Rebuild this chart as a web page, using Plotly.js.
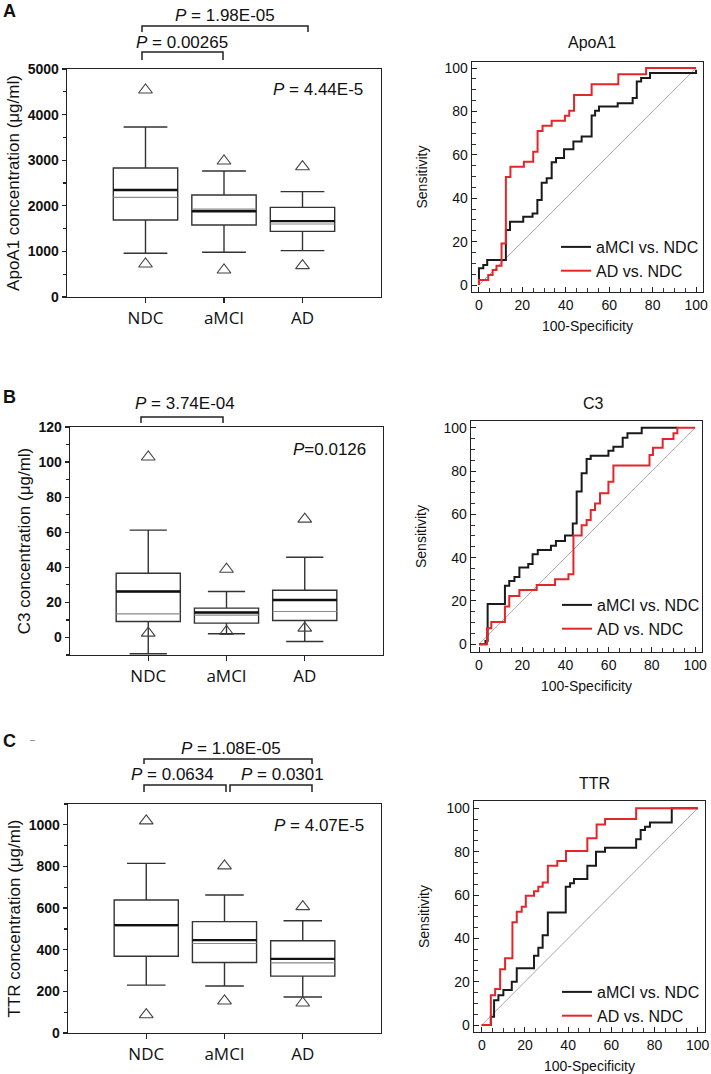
<!DOCTYPE html>
<html><head><meta charset="utf-8">
<script src="https://cdn.plot.ly/plotly-3.0.1.min.js"></script>
<style>html,body{margin:0;padding:0;background:#fff;} #chart{width:711px;height:1074px;}</style>
</head><body><div id="chart"></div>
<script>
// ---------------- DATA ----------------
const groups = ['NDC', 'aMCI', 'AD'];

// ApoA1 (µg/ml)
const apoQ1      = [1690, 1580, 1440];
const apoMedian  = [2345, 1880, 1665];
const apoQ3      = [2830, 2237, 1966];
const apoMean    = [2186, 1925, 1601];
const apoLow     = [958, 980, 1016];
const apoHigh    = [3728, 2763, 2310];
const apoOutHigh = [4539, 2982, 2858];
const apoOutLow  = [724, 592, 687];

// C3 (µg/ml)
const c3Q1      = [9.1, 8.2, 9.7];
const c3Median  = [26.2, 14.2, 21.4];
const c3Q3      = [36.6, 16.7, 26.9];
const c3Mean    = [13.5, 12.7, 14.8];
const c3Low     = [-9.3, 2.1, -2.3];
const c3High    = [61.2, 26.2, 45.7];
const c3OutHigh = [102.9, 38.9, 67.5];
const c3OutLow  = [2.5, 3.4, 5.3];

// TTR (µg/ml)
const ttrQ1      = [369, 339, 273];
const ttrMedian  = [518, 446, 356];
const ttrQ3      = [639, 535, 443];
const ttrMean    = [515, 430, 337];
const ttrLow     = [230, 226, 173];
const ttrHigh    = [815, 663, 539];
const ttrOutHigh = [1019, 803, 607];
const ttrOutLow  = [88, 154, 144];

// ROC curves (100-Specificity, Sensitivity)
const apoMciX = [0, 0, 2, 3.8, 12.4, 14.3, 20.4, 24.7, 26.9, 28.9, 31.2, 33.5, 35.5, 39.2, 43.5, 47.3, 51.9, 53.5, 55.3, 63.9, 70.8, 72.7, 74.7, 78.8, 100, 100];
const apoMciY = [0, 7.7, 9.2, 11.5, 25.4, 29.2, 31.5, 33, 39.2, 47.2, 49.2, 56.6, 58.5, 62.6, 66.2, 68.5, 78.2, 80.3, 82.3, 83.8, 86.2, 93.8, 95.4, 97.7, 97.7, 99.2];
const apoAdX  = [0, 0, 4.3, 6.3, 8.1, 10.4, 12.4, 14.5, 20.7, 25, 27, 29.3, 33.5, 39.6, 41.6, 43.8, 51.9, 64.2, 77, 100];
const apoAdY  = [0, 2.3, 4.6, 6.9, 8.9, 19.2, 49.8, 54.5, 56.8, 61.4, 71, 73.4, 75.7, 78, 80.3, 87.6, 92.5, 97.1, 100, 100];

const c3MciX = [0, 3, 4, 12, 14, 16.4, 18.7, 22.8, 24.8, 27.2, 33.3, 35.6, 39.8, 43.4, 45.2, 47.5, 49.8, 51.7, 59.9, 62.2, 66.5, 68.7, 75.3, 92];
const c3MciY = [0, 1.5, 18.6, 27, 29.2, 31, 35.4, 37, 41.5, 43.5, 45.5, 47.7, 50.2, 55.8, 70.5, 79, 85.5, 87.1, 89.4, 91.2, 95.4, 97.4, 100, 100];
const c3AdX  = [0, 3.7, 5.7, 12, 14, 18.7, 26.7, 35.2, 41.4, 43.7, 47.5, 49.8, 51.7, 53.7, 56, 59.9, 62.2, 78.9, 80.5, 85, 90, 91.8, 100];
const c3AdY  = [0, 7.4, 10.2, 17.4, 22.3, 25, 27.4, 30, 32.3, 50.2, 55, 57.4, 62, 65, 69.7, 75, 82.5, 87.4, 90.8, 94.8, 97.4, 100, 100];

const ttrMciX = [0, 4.2, 5.7, 7.7, 10, 13.9, 16.2, 24.2, 26.2, 28.2, 30.6, 38.9, 40.9, 42.7, 48.9, 52.9, 57.1, 71.5, 73.6, 75.6, 77.9, 88, 100];
const ttrMciY = [0, 3.8, 11.5, 13.8, 16.2, 20, 26.2, 32, 35.7, 41.5, 52, 63.8, 65.4, 67.4, 73.5, 80, 81.8, 85.8, 90, 91.5, 93.5, 100, 100];
const ttrAdX  = [0, 4.2, 6.2, 8.5, 10.8, 14.2, 16.2, 18.5, 20.4, 24.2, 26.2, 28.2, 30.6, 35, 39, 48.9, 53.2, 57.1, 71.5, 100];
const ttrAdY  = [0, 13.8, 16.6, 25.8, 30.8, 47.4, 52.3, 54.6, 59.7, 61.8, 63.8, 65.8, 73.5, 75.7, 80.3, 86.2, 92.6, 95.1, 100, 100];

const diagX = [0, 100];
const diagY = [0, 100];
const rocNames = ['aMCI vs. NDC', 'AD vs. NDC'];

// ---------------- HELPERS ----------------
const W = 711, H = 1074;
const fx = p => p / W;
const fy = p => 1 - p / H;
const ARIAL = 'Liberation Sans, Arial, sans-serif';
const BOXW = 0.82, HALF = BOXW / 2;
const pos = groups.map((g, i) => i);

function boxTraces(xa, ya, q1, med, q3, mean, lo, hi, outHi, outLo, cap) {
  const tr = [];
  tr.push({type: 'box', xaxis: xa, yaxis: ya, x: pos, q1: q1, median: med, q3: q3,
    lowerfence: lo, upperfence: hi, width: BOXW, whiskerwidth: cap, boxpoints: false,
    fillcolor: 'rgba(255,255,255,0)', line: {color: '#333', width: 1.4},
    showlegend: false, hoverinfo: 'skip'});
  pos.forEach(i => {
    tr.push({type: 'scatter', mode: 'lines', xaxis: xa, yaxis: ya, x: [i - HALF, i + HALF],
      y: [mean[i], mean[i]], line: {color: '#8a8a8a', width: 1.2}, showlegend: false, hoverinfo: 'skip'});
  });
  pos.forEach(i => {
    tr.push({type: 'scatter', mode: 'lines', xaxis: xa, yaxis: ya, x: [i - HALF, i + HALF],
      y: [med[i], med[i]], line: {color: '#111', width: 2.4}, showlegend: false, hoverinfo: 'skip'});
  });
  tr.push({type: 'scatter', mode: 'markers', xaxis: xa, yaxis: ya, x: pos.concat(pos),
    y: outHi.concat(outLo), marker: {symbol: 'triangle-up-open', size: 12, color: '#444', line: {width: 1.1}},
    showlegend: false, hoverinfo: 'skip', cliponaxis: false});
  return tr;
}

function rocTraces(xa, ya, leg, mx, my, ax, ay) {
  return [
    {type: 'scatter', mode: 'lines', xaxis: xa, yaxis: ya, x: diagX, y: diagY,
      line: {color: '#a8a8a8', width: 1}, showlegend: false, hoverinfo: 'skip'},
    {type: 'scatter', mode: 'lines', xaxis: xa, yaxis: ya, x: mx, y: my, name: rocNames[0],
      line: {color: '#1a1a1a', width: 2, shape: 'hv'}, legend: leg},
    {type: 'scatter', mode: 'lines', xaxis: xa, yaxis: ya, x: ax, y: ay, name: rocNames[1],
      line: {color: '#e3262a', width: 2, shape: 'hv'}, legend: leg}
  ];
}

const data = [].concat(
  boxTraces('x', 'y', apoQ1, apoMedian, apoQ3, apoMean, apoLow, apoHigh, apoOutHigh, apoOutLow, 0.68),
  rocTraces('x2', 'y2', 'legend', apoMciX, apoMciY, apoAdX, apoAdY),
  boxTraces('x3', 'y3', c3Q1, c3Median, c3Q3, c3Mean, c3Low, c3High, c3OutHigh, c3OutLow, 0.58),
  rocTraces('x4', 'y4', 'legend2', c3MciX, c3MciY, c3AdX, c3AdY),
  boxTraces('x5', 'y5', ttrQ1, ttrMedian, ttrQ3, ttrMean, ttrLow, ttrHigh, ttrOutHigh, ttrOutLow, 0.6),
  rocTraces('x6', 'y6', 'legend3', ttrMciX, ttrMciY, ttrAdX, ttrAdY)
);

// ---------------- AXES ----------------
function boxX(l, r, anchor) {
  return {domain: [fx(l), fx(r)], anchor: anchor, range: [-1, 3], tickvals: pos, ticktext: groups,
    ticks: 'outside', ticklen: 5, tickwidth: 1.3, tickcolor: '#222', showline: true, mirror: true,
    linecolor: '#222', linewidth: 1.3, zeroline: false, showgrid: false,
    tickfont: {family: 'Open Sans, sans-serif', size: 17, color: '#111'}};
}
function boxY(t, b, anchor, range, dtick, title, standoff) {
  return {domain: [fy(b), fy(t)], anchor: anchor, range: range, dtick: dtick, tick0: 0,
    ticks: 'outside', ticklen: 4, tickwidth: 1.2, tickcolor: '#222',
    minor: {dtick: dtick / 2, ticks: 'outside', ticklen: 3, tickcolor: '#222', showgrid: false},
    showline: true, mirror: true, linecolor: '#222', linewidth: 1.3, zeroline: false, showgrid: false,
    tickfont: {family: ARIAL, size: 14, weight: 'bold', color: '#111'},
    title: {text: title, font: {family: ARIAL, size: 17, color: '#111'}, standoff: standoff}};
}
function rocX(l, r, anchor, range) {
  return {domain: [fx(l), fx(r)], anchor: anchor, range: range, dtick: 20, tick0: 0,
    ticks: 'inside', ticklen: 5, tickcolor: '#222', minor: {dtick: 5, ticks: 'inside', ticklen: 4, tickcolor: '#333'},
    showline: true, mirror: true, linecolor: '#222', linewidth: 1.3, zeroline: false, showgrid: false,
    tickfont: {family: ARIAL, size: 14, color: '#111'},
    title: {text: '100-Specificity', font: {family: ARIAL, size: 14, color: '#111'}, standoff: 9}};
}
function rocY(t, b, anchor, range) {
  return {domain: [fy(b), fy(t)], anchor: anchor, range: range, dtick: 20, tick0: 0,
    ticks: 'inside', ticklen: 5, tickcolor: '#222', minor: {dtick: 5, ticks: 'inside', ticklen: 4, tickcolor: '#333'},
    showline: true, mirror: true, linecolor: '#222', linewidth: 1.3, zeroline: false, showgrid: false,
    tickfont: {family: ARIAL, size: 14, color: '#111'},
    title: {text: 'Sensitivity', font: {family: ARIAL, size: 14, color: '#111'}, standoff: 13}};
}

function leg(left, top) {
  return {x: fx(left), y: fy(top), xanchor: 'left', yanchor: 'top', bgcolor: 'rgba(0,0,0,0)',
    font: {family: ARIAL, size: 16, color: '#111'}, itemwidth: 30, tracegroupgap: 0};
}

function ann(text, x, y, size, extra) {
  return Object.assign({text: text, x: fx(x), y: fy(y), xref: 'paper', yref: 'paper', showarrow: false,
    xanchor: 'center', yanchor: 'middle', font: {family: ARIAL, size: size, color: '#111'}}, extra || {});
}
function bracket(x1, x2, yt, yb) {
  return {type: 'path', xref: 'paper', yref: 'paper',
    path: `M ${fx(x1)},${fy(yb)} L ${fx(x1)},${fy(yt)} L ${fx(x2)},${fy(yt)} L ${fx(x2)},${fy(yb)}`,
    line: {color: '#222', width: 1.5}};
}
const P = '<i>P</i>';

const layout = {
  width: W, height: H, margin: {l: 0, r: 0, t: 0, b: 0}, paper_bgcolor: '#fff', plot_bgcolor: 'rgba(0,0,0,0)',
  showlegend: true,
  xaxis: boxX(67, 381, 'y'),
  yaxis: boxY(69, 297, 'x', [0, 5000], 1000, 'ApoA1 concentration (μg/ml)', 3),
  xaxis2: rocX(472, 703, 'y2', [-3.2, 103.2]),
  yaxis2: rocY(62, 292, 'x2', [-3.2, 102.8]),
  xaxis3: boxX(70, 383, 'y3'),
  yaxis3: boxY(427, 655, 'x3', [-10, 120], 20, 'C3 concentration (μg/ml)', 3),
  xaxis4: rocX(471, 702, 'y4', [-3.7, 103.2]),
  yaxis4: rocY(421, 652, 'x4', [-3.6, 103.1]),
  xaxis5: boxX(68, 381, 'y5'),
  yaxis5: boxY(804, 1033, 'x5', [0, 1100], 200, 'TTR concentration (μg/ml)', 3),
  xaxis6: rocX(474, 705, 'y6', [-3.6, 103.4]),
  yaxis6: rocY(801, 1032, 'x6', [-3.2, 103.4]),
  legend: leg(556, 230),
  legend2: leg(557, 588),
  legend3: leg(557, 975),
  annotations: [
    ann('<b>A</b>', 9, 11, 18),
    ann('<b>B</b>', 9, 397, 18),
    ann('<b>C</b>', 9, 741, 18),
    ann('–', 32, 740, 9, {font: {family: ARIAL, size: 9, color: '#666'}}),
    ann(P + ' = 1.98E-05', 225, 15, 17),
    ann(P + ' = 0.00265', 182, 43, 17),
    ann(P + ' = 4.44E-5', 318, 89, 17),
    ann(P + ' = 3.74E-04', 185, 404, 17),
    ann(P + '=0.0126', 329, 450, 17),
    ann(P + ' = 1.08E-05', 231, 748, 17),
    ann(P + ' = 0.0634', 172, 774, 17),
    ann(P + ' = 0.0301', 282, 774, 17),
    ann(P + ' = 4.07E-5', 319, 825, 17),
    ann('ApoA1', 592, 42, 16),
    ann('C3', 593, 403, 16),
    ann('TTR', 594, 783, 16)
  ],
  shapes: [
    bracket(142, 308, 26, 32),
    bracket(142, 223, 52, 60),
    bracket(141, 223, 417, 423),
    bracket(144, 312, 759, 764),
    bracket(144, 226, 785, 792),
    bracket(230, 312, 785, 792)
  ]
};

Plotly.newPlot('chart', data, layout, {staticPlot: true, displayModeBar: false});
</script>
</body></html>
